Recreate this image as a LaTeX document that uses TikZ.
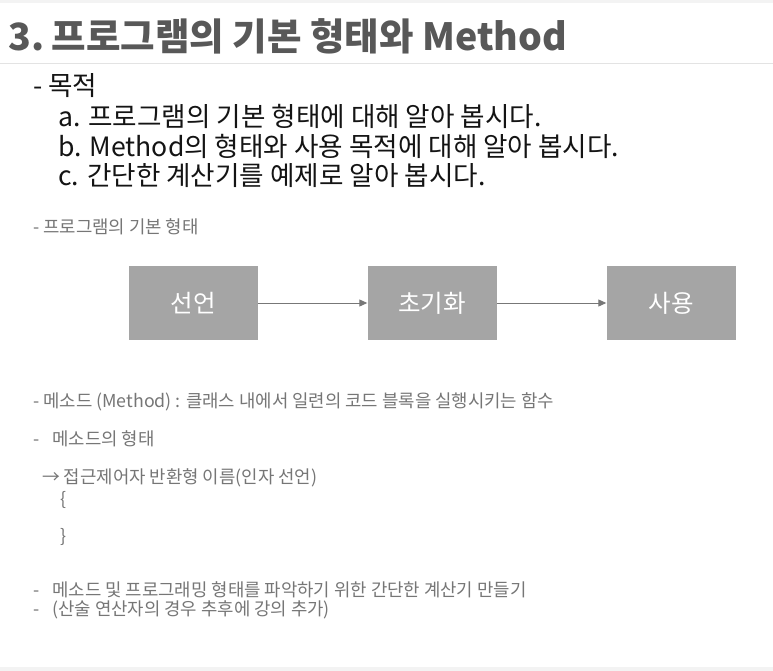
\documentclass[tikz,border=0pt]{standalone}
\usepackage{fontspec}
\setmainfont{Noto Sans CJK KR}
\usetikzlibrary{arrows.meta}
\definecolor{titlegray}{HTML}{585858}
\definecolor{boxgray}{HTML}{A5A5A5}
\definecolor{smallgray}{HTML}{767676}
\definecolor{arrowgray}{HTML}{777777}
\definecolor{rulegray}{HTML}{E3E3E3}
\definecolor{bandgray}{HTML}{F3F3F3}
\newcommand{\dashgap}{-\hspace{13pt}}
\tikzset{
  txt/.style={anchor=west, inner sep=0pt},
  bigtxt/.style={txt, font=\fontsize{26.6}{30}\selectfont, text=black!92},
  smalltxt/.style={txt, font=\fontsize{17.8}{20}\selectfont, text=smallgray},
  stagebox/.style={fill=boxgray, minimum width=129pt, minimum height=74pt, inner sep=0pt, text=white, font=\fontsize{24.5}{28}\selectfont},
  flow/.style={draw=arrowgray, line width=1pt, -{Triangle[length=8pt,width=7pt]}}
}
\begin{document}
\begin{tikzpicture}[x=1pt,y=-1pt]
\useasboundingbox (0,0) rectangle (773,671);
\fill[white] (0,0) rectangle (773,671);
\fill[bandgray] (0,0) rectangle (773,3);
\fill[bandgray] (0,667) rectangle (773,671);
\draw[rulegray, line width=1pt] (0,64) -- (773,64);
\node[txt, font=\fontsize{37.5}{42}\selectfont\bfseries, text=titlegray] (title) at (8,36) {3.\hspace{-4pt} 프로그램의 기본 형태와 Method};
\node[bigtxt] (goal) at (33,86) {- 목적};
\node[bigtxt] (ga) at (58,116) {a. 프로그램의 기본 형태에 대해 알아 봅시다.};
\node[bigtxt] (gb) at (58,146) {b. Method의 형태와 사용 목적에 대해 알아 봅시다.};
\node[bigtxt] (gc) at (58,176) {c. 간단한 계산기를 예제로 알아 봅시다.};
\node[smalltxt] (basic) at (33,227) {- 프로그램의 기본 형태};
\node[stagebox] (decl) at (193,303) {선언};
\node[stagebox] (init) at (432,303) {초기화};
\node[stagebox] (use) at (671,303) {사용};
\draw[flow] (decl) -- (init);
\draw[flow] (init) -- (use);
\node[smalltxt] (m1) at (33,402) {- 메소드 (Method) : 클래스 내에서 일련의 코드 블록을 실행시키는 함수};
\node[smalltxt] (m2) at (33,439) {\dashgap 메소드의 형태};
\node[smalltxt] (m3) at (42,478) {→ 접근제어자 반환형 이름(인자 선언)};
\node[smalltxt] (m4) at (60,500) {\{};
\node[smalltxt] (m5) at (60,537) {\}};
\node[smalltxt] (m6) at (33,590) {\dashgap 메소드 및 프로그래밍 형태를 파악하기 위한 간단한 계산기 만들기};
\node[smalltxt] (m7) at (33,610) {\dashgap (산술 연산자의 경우 추후에 강의 추가)};
\end{tikzpicture}
\end{document}
